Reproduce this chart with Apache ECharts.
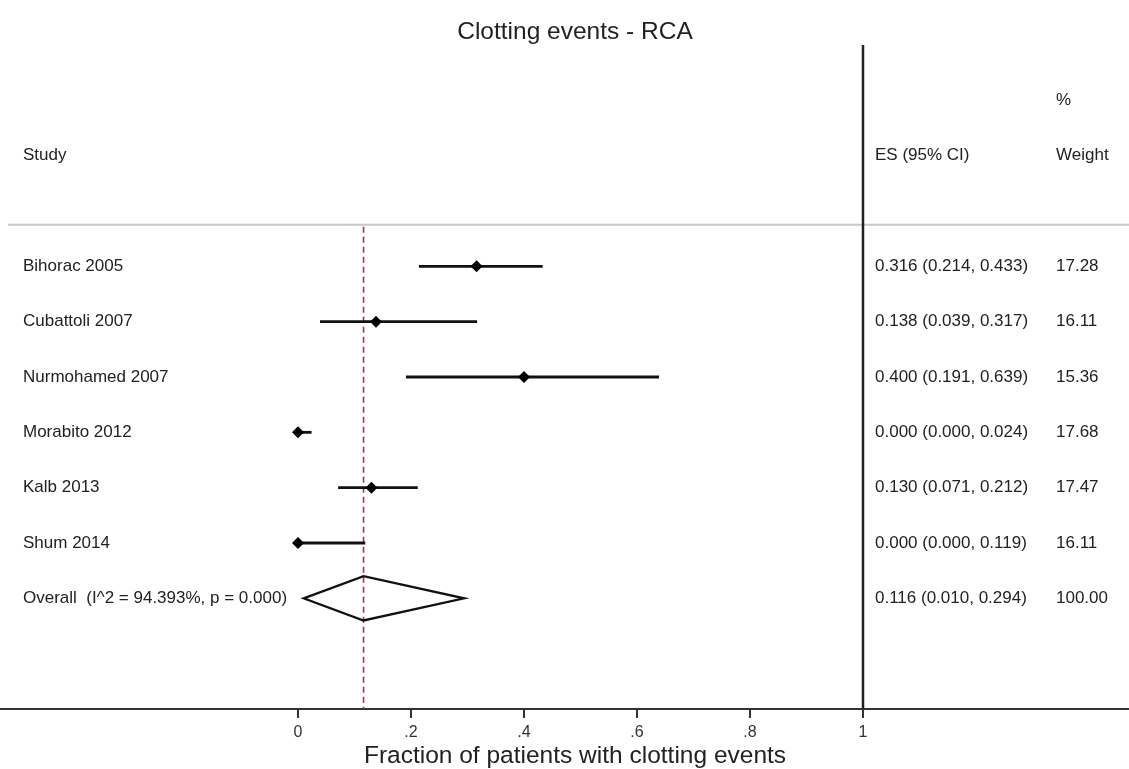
<!DOCTYPE html>
<html><head><meta charset="utf-8">
<script src="https://cdn.jsdelivr.net/npm/echarts@6/dist/echarts.min.js"></script>
<style>html,body{margin:0;padding:0;background:#fff}#c{width:1129px;height:769px}</style>
</head><body><div id="c"></div>
<script>
// ---- data ----
const studies = ['Bihorac 2005','Cubattoli 2007','Nurmohamed 2007','Morabito 2012','Kalb 2013','Shum 2014'];
const es = [0.316, 0.138, 0.400, 0.000, 0.130, 0.000];
const lo = [0.214, 0.039, 0.191, 0.000, 0.071, 0.000];
const hi = [0.433, 0.317, 0.639, 0.024, 0.212, 0.119];
const weights = [17.28, 16.11, 15.36, 17.68, 17.47, 16.11];
const overallES = 0.116, overallLo = 0.010, overallHi = 0.294, overallWeight = 100.00;
const i2 = 94.393, pValue = 0.000;
const xTicks = [0, 0.2, 0.4, 0.6, 0.8, 1];
const tickLabels = ['0', '.2', '.4', '.6', '.8', '1'];
const titleText = 'Clotting events - RCA';
const xAxisTitle = 'Fraction of patients with clotting events';
const headStudy = 'Study', headES = 'ES (95% CI)', headPct = '%', headWeight = 'Weight';

// ---- layout ----
const W = 1129, H = 769;
const X0 = 298, PXU = 565;               // pixel of x=0, px per unit
const xMin = -X0 / PXU, xMax = (W - X0) / PXU;
const yMin = -4, yMax = 8;               // row units (row i at y=i)
const SEP_Y = -0.75;
const COL_NAME = 23, COL_ES = 875, COL_W = 1056;
const FONT = '"Liberation Sans", Arial, Helvetica, sans-serif';
const FS = 17;
const TXT = '#222';

const rows = studies.map((s, i) => [i, lo[i], es[i], hi[i]]);
const nRows = studies.length;
const overallRow = nRows;

const labelRows = studies.map((s, i) => ({
  value: [0, i],
  name: s,
  esText: es[i].toFixed(3) + ' (' + lo[i].toFixed(3) + ', ' + hi[i].toFixed(3) + ')',
  wText: weights[i].toFixed(2)
}));
labelRows.push({
  value: [0, overallRow],
  name: 'Overall  (I^2 = ' + i2.toFixed(3) + '%, p = ' + pValue.toFixed(3) + ')',
  esText: overallES.toFixed(3) + ' (' + overallLo.toFixed(3) + ', ' + overallHi.toFixed(3) + ')',
  wText: overallWeight.toFixed(2)
});

function txt(x, y, s, align) {
  return { type: 'text', x: x, y: y, style: { text: s, fill: TXT, font: FS + 'px ' + FONT, textAlign: align || 'left', textVerticalAlign: 'middle' } };
}

const chart = echarts.init(document.getElementById('c'), null, { renderer: 'canvas' });
chart.setOption({
  animation: false,
  backgroundColor: '#fff',
  grid: { left: 0, right: 0, top: 45, bottom: 60, containLabel: false },
  xAxis: {
    type: 'value', min: xMin, max: xMax,
    splitLine: { show: false },
    axisLine: { show: true, onZero: false, lineStyle: { color: '#333', width: 2 } },
    axisTick: { show: true, customValues: xTicks, length: 9, lineStyle: { color: '#333', width: 2 } },
    axisLabel: {
      show: true, customValues: xTicks, margin: 16,
      color: '#333', fontSize: 16, fontFamily: FONT,
      formatter: function (v) { const k = xTicks.findIndex(t => Math.abs(t - v) < 1e-9); return k >= 0 ? tickLabels[k] : ''; }
    }
  },
  yAxis: { type: 'value', min: yMin, max: yMax, inverse: true, show: false },
  graphic: [
    { type: 'text', x: 575, y: 32, style: { text: titleText, fill: TXT, font: '24.5px ' + FONT, textAlign: 'center', textVerticalAlign: 'middle' } },
    { type: 'text', x: 575, y: 756, style: { text: xAxisTitle, fill: TXT, font: '24.5px ' + FONT, textAlign: 'center', textVerticalAlign: 'middle' } }
  ],
  series: [
    { // header separator
      type: 'custom', z: 1, silent: true,
      data: [[SEP_Y]],
      renderItem: function (params, api) {
        const y = api.coord([0, api.value(0)])[1];
        return { type: 'line', shape: { x1: 8, y1: y, x2: W, y2: y }, style: { stroke: '#c8c8c8', lineWidth: 2 } };
      }
    },
    { // reference dashed line at overall estimate
      type: 'custom', z: 2, silent: true,
      data: [[overallES]],
      renderItem: function (params, api) {
        const p1 = api.coord([api.value(0), SEP_Y]);
        const p2 = api.coord([api.value(0), yMax]);
        return { type: 'line', shape: { x1: p1[0], y1: p1[1] + 2, x2: p2[0], y2: p2[1] }, style: { stroke: '#9c3a4c', lineWidth: 1.6, lineDash: [6, 4] } };
      }
    },
    { // vertical line at 1
      type: 'custom', z: 3, silent: true,
      data: [[1]],
      renderItem: function (params, api) {
        const p1 = api.coord([api.value(0), yMin]);
        const p2 = api.coord([api.value(0), yMax]);
        return { type: 'line', shape: { x1: p1[0], y1: p1[1], x2: p2[0], y2: p2[1] }, style: { stroke: '#222', lineWidth: 2.5 } };
      }
    },
    { // study CIs and point estimates
      type: 'custom', z: 4, silent: true,
      data: rows,
      renderItem: function (params, api) {
        const r = api.value(0);
        const a = api.coord([api.value(1), r]);
        const m = api.coord([api.value(2), r]);
        const b = api.coord([api.value(3), r]);
        return { type: 'group', children: [
          { type: 'line', shape: { x1: a[0], y1: a[1], x2: b[0], y2: b[1] }, style: { stroke: '#111', lineWidth: 2.8 } },
          { type: 'polygon', shape: { points: [[m[0] - 6, m[1]], [m[0], m[1] - 6], [m[0] + 6, m[1]], [m[0], m[1] + 6]] }, style: { fill: '#000' } }
        ] };
      }
    },
    { // overall diamond
      type: 'custom', z: 5, silent: true,
      data: [[overallRow, overallLo, overallES, overallHi]],
      renderItem: function (params, api) {
        const r = api.value(0);
        const a = api.coord([api.value(1), r]);
        const t = api.coord([api.value(2), r - 0.4]);
        const b = api.coord([api.value(3), r]);
        const d = api.coord([api.value(2), r + 0.4]);
        return { type: 'polygon', shape: { points: [a, t, b, d] }, style: { fill: 'none', stroke: '#111', lineWidth: 2.3, lineJoin: 'miter' } };
      }
    },
    { // table text
      type: 'custom', z: 6, silent: true,
      data: labelRows,
      renderItem: function (params, api) {
        const item = labelRows[params.dataIndex];
        const y = api.coord([0, api.value(1)])[1];
        const children = [txt(COL_NAME, y, item.name), txt(COL_ES, y, item.esText), txt(COL_W, y, item.wText)];
        if (params.dataIndex === 0) {
          const yh = api.coord([0, -2])[1];
          const yp = api.coord([0, -3])[1];
          children.push(txt(COL_NAME, yh, headStudy), txt(COL_ES, yh, headES), txt(COL_W, yh, headWeight), txt(COL_W, yp, headPct));
        }
        return { type: 'group', children: children };
      }
    }
  ]
});
</script>
</body></html>
